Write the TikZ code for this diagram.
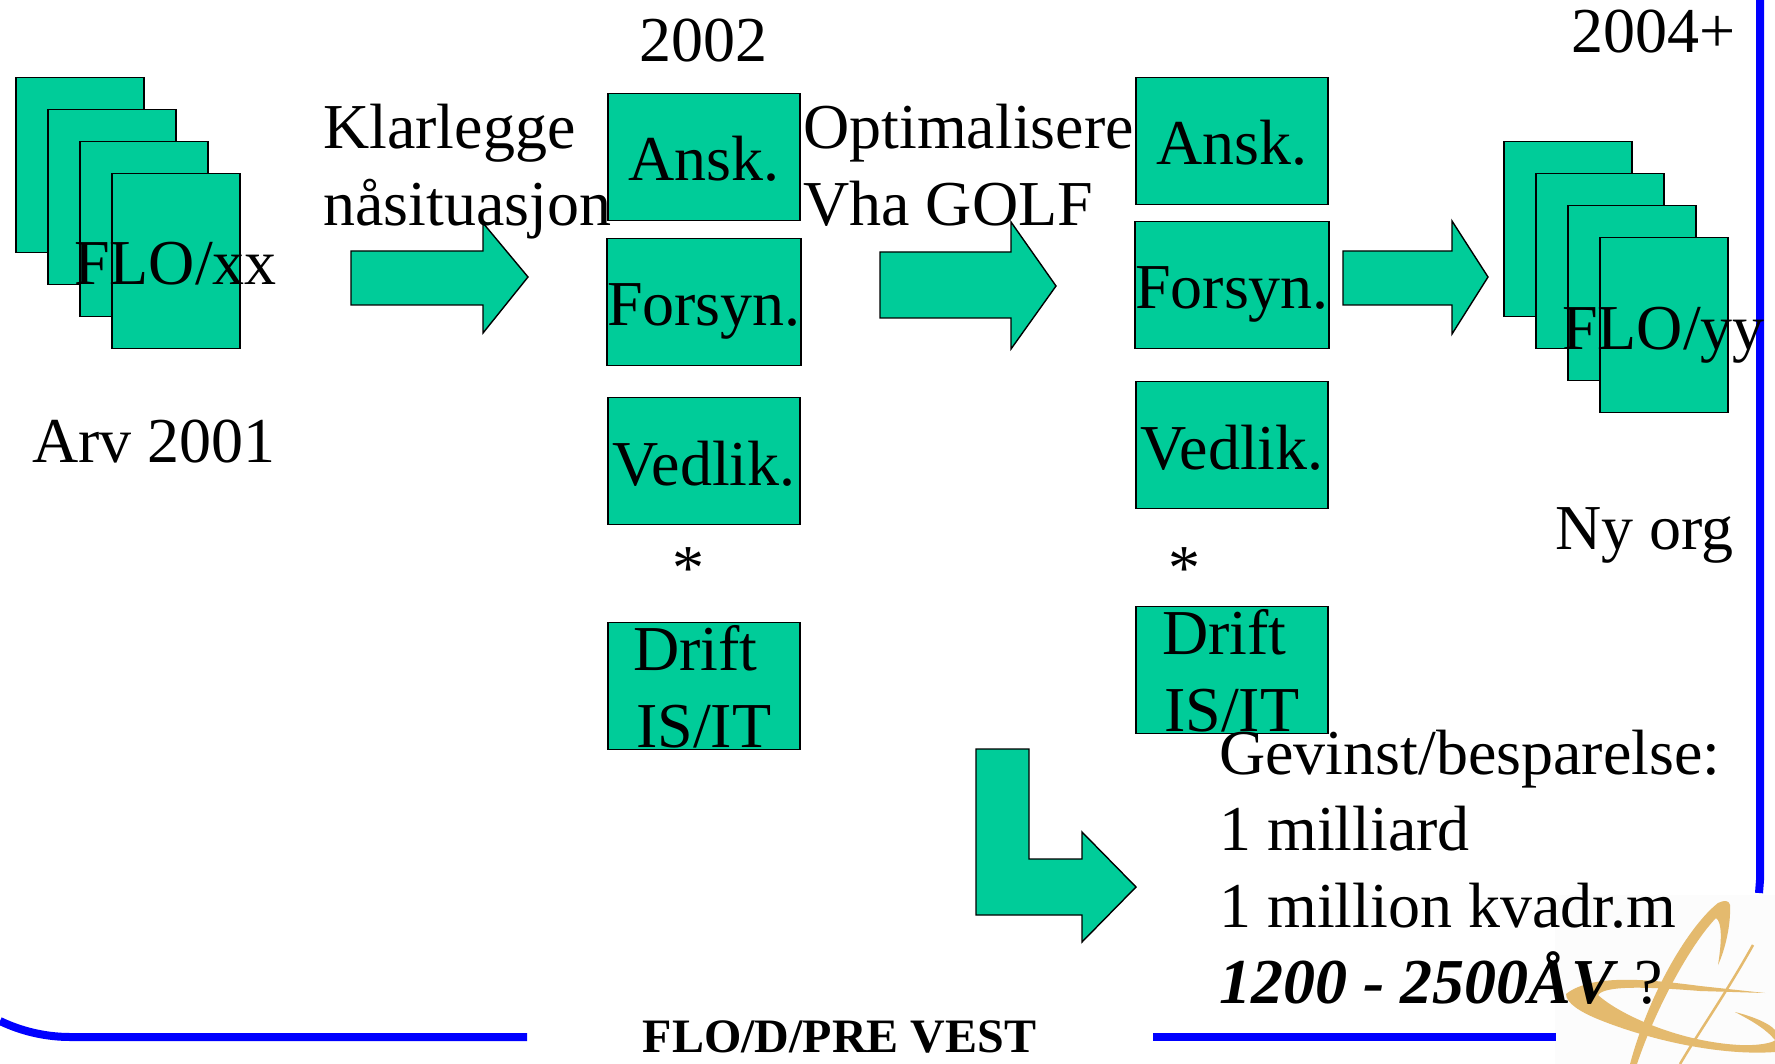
\documentclass[tikz,border=0pt]{standalone}
\usepackage{fontspec}
\setmainfont{Liberation Serif}
\usepackage{xcolor}
\usetikzlibrary{positioning}
\definecolor{flogreen}{RGB}{0, 204, 153}
\definecolor{logogold}{RGB}{228, 186, 110}
\tikzset{
    txt/.style={anchor=base west, inner sep=0pt, font=\fontsize{64}{76}\selectfont},
    flobox/.style={draw=black, line width=1.4pt, fill=flogreen, rectangle, inner sep=0pt,
        minimum width=192pt, minimum height=127pt, text height=48pt, text depth=0pt,
        font=\fontsize{64}{76}\selectfont},
    sheet/.style={draw=black, line width=1.4pt, fill=flogreen, rectangle, inner sep=0pt,
        minimum width=128pt, minimum height=175pt},
    blockarrow/.style={draw=black, line width=1.4pt, fill=flogreen},
    blueline/.style={draw=blue, line width=8pt}
}

\begin{document}
\begin{tikzpicture}[x=1pt, y=-1pt]
    \useasboundingbox (0,0) rectangle (1775,1064);

    % Logo
    \fill[black!1] (1555,895) rectangle (1775,1064);
    \fill[logogold] (1630,1064) .. controls (1650,990) and (1690,925) .. (1718,903)
        .. controls (1724,900) and (1729,900) .. (1730,905)
        .. controls (1731,925) and (1725,950) .. (1718,965)
        .. controls (1722,940) and (1722,922) .. (1716,918)
        .. controls (1690,945) and (1655,1010) .. (1637,1064) -- cycle;
    \fill[logogold] (1566,994) .. controls (1590,975) and (1640,978) .. (1700,986)
        -- (1765,993) -- (1700,991)
        .. controls (1650,987) and (1605,985) .. (1598,995)
        .. controls (1620,1015) and (1680,1042) .. (1740,1045)
        .. controls (1760,1046) and (1775,1042) .. (1775,1040)
        .. controls (1765,1028) and (1750,1020) .. (1735,1012)
        .. controls (1755,1017) and (1770,1024) .. (1775,1030) -- (1775,1052)
        .. controls (1720,1056) and (1650,1040) .. (1600,1020)
        .. controls (1580,1012) and (1566,1003) .. (1566,994) -- cycle;
    \draw[logogold, line width=2.5pt] (1753,945) .. controls (1725,995) and (1700,1030) .. (1680,1064);

    % Blue frame
    \draw[blueline] (0,1021) .. controls (25,1033) and (50,1037) .. (70,1037) -- (527,1037);
    \draw[blueline] (1153,1037) -- (1556,1037);
    \draw[blueline] (1760,0) -- (1760,880) -- (1759,893);

    % Sheets on the left
    \foreach \n/\x/\y in {1/80/165, 2/112/197, 3/144/229, 4/176/261}
        \node[sheet] (arv\n) at (\x,\y) {};
    \node[txt] (flox) at (74,285) {FLO/xx};
    \node[txt] (arv) at (32,462) {Arv 2001};

    % Sheets on the right
    \foreach \n/\x/\y in {1/1568/229, 2/1600/261, 3/1632/293, 4/1664/325}
        \node[sheet] (ny\n) at (\x,\y) {};
    \node[txt] (floy) at (1562,350) {FLO/yy};
    \node[txt] (nyorg) at (1555,549) {Ny org};

    % Column 2002
    \node[txt] (aar2002) at (639,62) {2002};
    \node[flobox] (ansk1) at (704,157) {Ansk.};
    \node[flobox] (forsyn1) at (704,302) {Forsyn.};
    \node[flobox] (vedlik1) at (704,461) {Vedlik.};
    \node[txt] (star1) at (672,589) {*};
    \node[flobox] (drift1) at (704,686) {};
    \node[txt] (drifta) at (633,670) {Drift};
    \node[txt] (isit1) at (636,747) {IS/IT};

    % Column 2004
    \node[txt] (aar2004) at (1571,53) {2004+};
    \node[flobox] (ansk2) at (1232,141) {Ansk.};
    \node[flobox] (forsyn2) at (1232,285) {Forsyn.};
    \node[flobox] (vedlik2) at (1232,445) {Vedlik.};
    \node[txt] (star2) at (1168,589) {*};
    \node[flobox] (drift2) at (1232,670) {};
    \node[txt] (driftb) at (1162,654) {Drift};
    \node[txt] (isit2) at (1164,731) {IS/IT};

    % Arrows
    \draw[blockarrow] (351,251) -- (483,251) -- (483,223) -- (528,277) -- (483,333) -- (483,305) -- (351,305) -- cycle;
    \draw[blockarrow] (880,252) -- (1011,252) -- (1011,222) -- (1056,286) -- (1011,349) -- (1011,318) -- (880,318) -- cycle;
    \draw[blockarrow] (1343,251) -- (1452,251) -- (1452,221) -- (1488,277) -- (1452,334) -- (1452,305) -- (1343,305) -- cycle;
    \draw[blockarrow] (976,749) -- (1029,749) -- (1029,859) -- (1082,859) -- (1082,832) -- (1136,887) -- (1082,942) -- (1082,915) -- (976,915) -- cycle;

    % Arrow labels
    \node[txt] (klar) at (323,149) {Klarlegge};
    \node[txt] (naa) at (323,226) {nåsituasjon};
    \node[txt] (opti) at (803,149) {Optimalisere};
    \node[txt] (golf) at (803,226) {Vha GOLF};

    % Gain
    \node[txt] (gev) at (1219,774) {Gevinst/besparelse:};
    \node[txt] (mrd) at (1219,850) {1 milliard};
    \node[txt] (mill) at (1219,927) {1 million kvadr.m};
    \node[txt] (aav) at (1219,1003) {\textbf{\textit{1200 - 2500ÅV}} ?};

    % Footer
    \node[anchor=base, inner sep=0pt, font=\fontsize{48}{52}\selectfont\bfseries] (footer) at (839.5,1052) {FLO/D/PRE VEST};
\end{tikzpicture}
\end{document}
